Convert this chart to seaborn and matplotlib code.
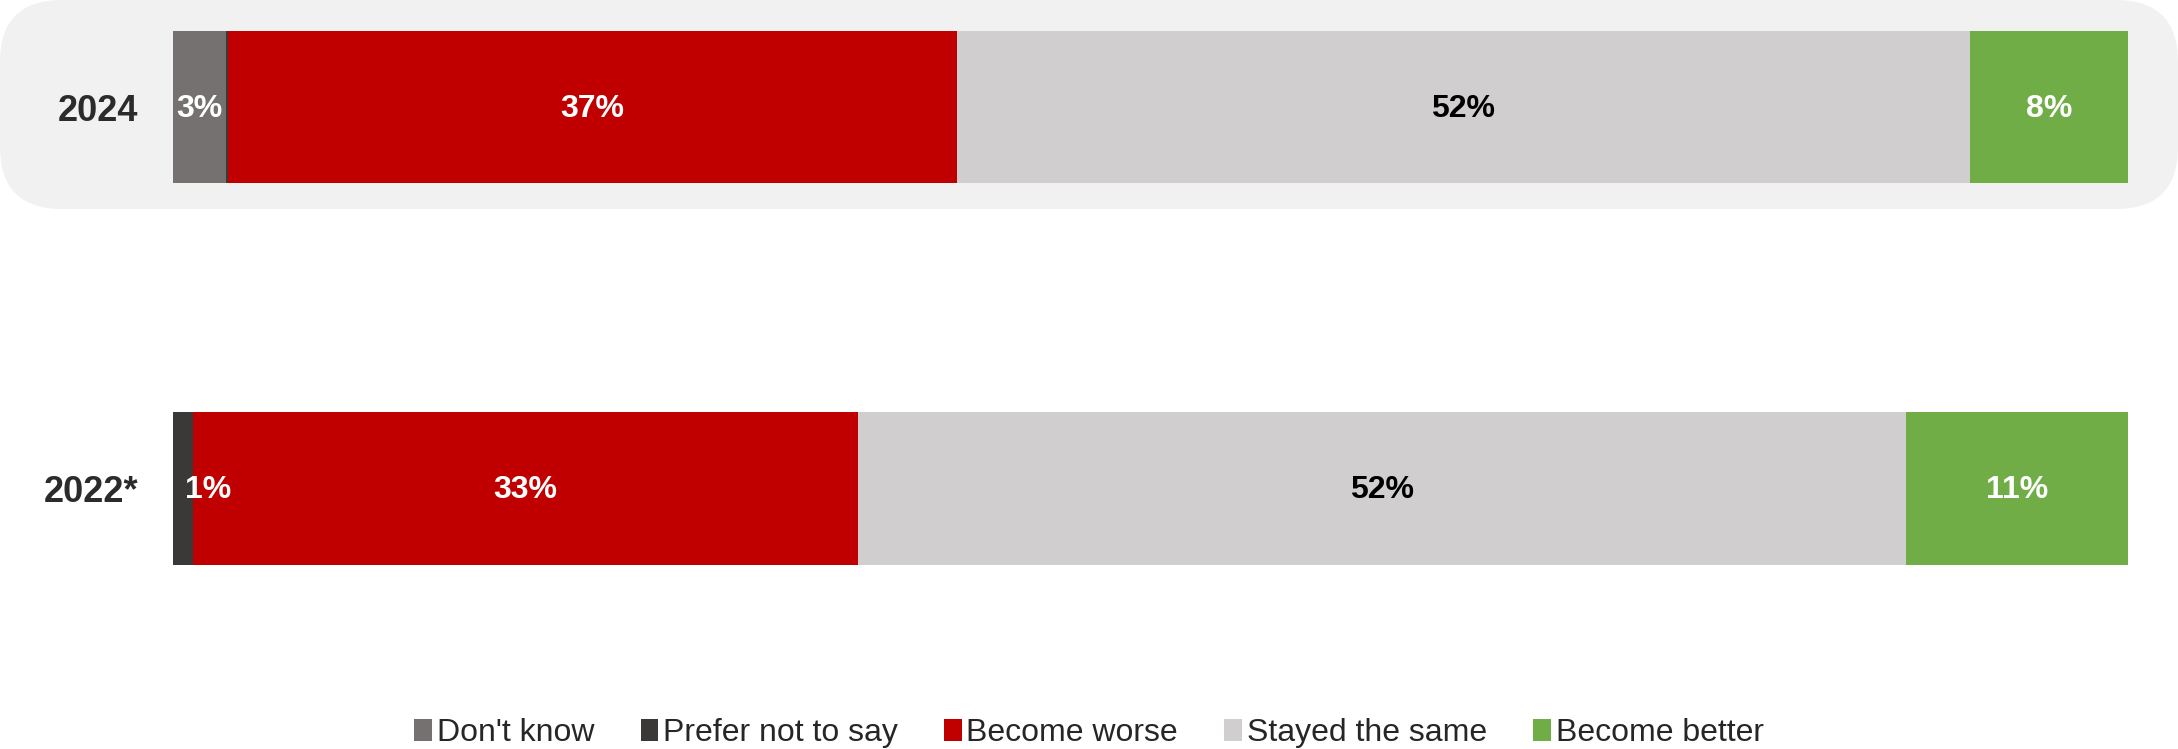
import pandas as pd
import matplotlib.pyplot as plt
import seaborn as sns
from matplotlib.patches import FancyBboxPatch, Patch

# Datos
years = ["2024", "2022*"]
categories = ["Don't know", "Prefer not to say", "Become worse", "Stayed the same", "Become better"]
values_2024 = [2.7, 0.1, 37.3, 51.8, 8.1]
values_2022 = [0, 1, 33, 52, 11]
labels_2024 = ["3%", "", "37%", "52%", "8%"]
labels_2022 = ["", "1%", "33%", "52%", "11%"]
colors = ["#767171", "#3B3838", "#C00000", "#D0CECE", "#70AD47"]
text_colors = ["white", "white", "white", "black", "white"]

sns.set_style("white")
plt.rcParams["font.family"] = ["Liberation Sans", "DejaVu Sans"]

# Tabla en formato largo, normalizada a 100% por año
rows = []
for year, vals in zip(years, [values_2024, values_2022]):
    total = sum(vals)
    for cat, v in zip(categories, vals):
        rows.append({"year": year, "category": cat, "pct": v / total * 100})
df = pd.DataFrame(rows)
df["left"] = df.groupby("year")["pct"].cumsum() - df["pct"]
df["right"] = df["left"] + df["pct"]

fig = plt.figure(figsize=(21.78, 7.49), dpi=100)
ax = fig.add_axes([173 / 2178, (749 - 660) / 749, (2128 - 173) / 2178, 660 / 749])
ax.set_facecolor("none")

# Fondo redondeado detras de la barra 2024
bg = FancyBboxPatch((0, 1 - 209 / 749), 1, 209 / 749,
                    boxstyle="round,pad=0,rounding_size=%f" % (62 / 2178),
                    mutation_aspect=2178 / 749,
                    transform=fig.transFigure, facecolor="#F1F1F1",
                    edgecolor="none", zorder=-1)
fig.patches.append(bg)

# Barras apiladas: se dibuja el acumulado de derecha a izquierda
for cat, col in reversed(list(zip(categories, colors))):
    d = df[df["category"] == cat]
    sns.barplot(data=d, x="right", y="year", order=years, orient="y",
                color=col, width=0.4, linewidth=0, saturation=1, ax=ax)

# Etiquetas de porcentaje
for year, labs in zip(years, [labels_2024, labels_2022]):
    yi = years.index(year)
    d = df[df["year"] == year].reset_index(drop=True)
    for i, lab in enumerate(labs):
        if not lab:
            continue
        if d.loc[i, "pct"] < 2:
            x, ha = d.loc[i, "left"] + 0.6, "left"
        else:
            x, ha = (d.loc[i, "left"] + d.loc[i, "right"]) / 2, "center"
        ax.text(x, yi + 0.005, lab, ha=ha, va="center", fontsize=23,
                fontweight="bold", color=text_colors[i])

ax.set_xlim(0, 100)
ax.set_ylim(1.4495, -0.2805)
ax.set_xlabel("")
ax.set_ylabel("")
ax.set_xticks([])
ax.tick_params(axis="y", length=0, pad=25, labelsize=26, labelcolor="#2B2B2B")
for t in ax.get_yticklabels():
    t.set_fontweight("bold")
sns.despine(ax=ax, left=True, bottom=True)

handles = [Patch(facecolor=c, edgecolor="none", label=l) for c, l in zip(colors, categories)]
fig.legend(handles=handles, loc="center", bbox_to_anchor=(0.5, 0.021), ncol=5,
           frameon=False, fontsize=23, handlelength=0.55, handleheight=0.7,
           handletextpad=0.15, columnspacing=1.45)

plt.savefig("out.png", dpi=100)
